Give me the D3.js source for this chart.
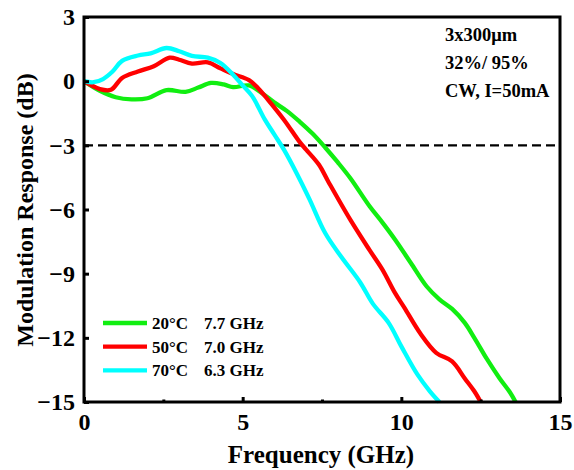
<!DOCTYPE html>
<html>
<head>
<meta charset="utf-8">
<script src="https://cdn.jsdelivr.net/npm/d3@7"></script>
<style>
  body { margin: 0; background: #fff; }
  text { font-family: "Liberation Serif", "Times New Roman", serif; font-weight: bold; fill: #000; }
</style>
</head>
<body>
<div id="chart"></div>
<script>
// measured response curves
const freq20 = [0, 0.5, 1.0, 1.5, 2.0, 2.6, 3.2, 3.6, 4.0, 4.4, 4.7, 5.2, 5.6, 6.0, 6.4, 6.8, 7.2, 7.6, 8.0, 8.4, 9.0, 9.4, 9.8, 10.3, 10.8, 11.2, 11.6, 12.0, 12.3, 12.7, 13.1, 13.4, 13.6];
const resp20 = [0, -0.45, -0.75, -0.85, -0.8, -0.42, -0.5, -0.3, -0.08, -0.15, -0.28, -0.2, -0.55, -1.0, -1.4, -1.9, -2.45, -3.1, -3.8, -4.55, -5.85, -6.6, -7.4, -8.5, -9.6, -10.2, -10.65, -11.3, -12.0, -13.0, -13.9, -14.5, -15];
const freq50 = [0, 0.5, 0.85, 1.2, 1.7, 2.2, 2.7, 3.0, 3.4, 3.9, 4.3, 4.7, 5.2, 5.5, 5.8, 6.3, 6.8, 7.0, 7.4, 7.7, 8.4, 9.0, 9.4, 9.8, 10.1, 10.6, 11.1, 11.6, 12.0, 12.3, 12.5];
const resp50 = [0, -0.37, -0.4, 0.15, 0.45, 0.7, 1.1, 1.0, 0.82, 0.88, 0.6, 0.33, 0.05, -0.35, -0.87, -1.8, -2.85, -3.2, -3.9, -4.7, -6.5, -7.9, -8.8, -9.9, -10.6, -11.8, -12.7, -13.1, -13.9, -14.5, -15];
const freq70 = [0, 0.3, 0.6, 0.9, 1.2, 1.7, 2.1, 2.6, 3.0, 3.4, 3.9, 4.3, 4.7, 5.0, 5.3, 5.7, 6.0, 6.3, 6.7, 7.1, 7.6, 8.1, 8.7, 9.1, 9.6, 10.0, 10.5, 10.9, 11.2];
const resp70 = [0, -0.05, 0.1, 0.45, 0.95, 1.2, 1.3, 1.55, 1.4, 1.18, 1.1, 0.85, 0.3, -0.2, -0.7, -1.8, -2.5, -3.2, -4.3, -5.5, -7.1, -8.2, -9.4, -10.4, -11.3, -12.4, -13.7, -14.5, -15];

const legendLabels = ['20\u00B0C', '50\u00B0C', '70\u00B0C'];
const bandwidths = ['7.7 GHz', '7.0 GHz', '6.3 GHz'];
const colors = ['#11ee11', '#ff0000', '#00ffff'];
const xTicks = [0, 5, 10, 15];
const xMinorTicks = [2.5, 7.5, 12.5];
const yTicks = [3, 0, -3, -6, -9, -12, -15];
const notes = ['3x300\u03BCm', '32%/ 95%', 'CW, I=50mA'];

const width = 574, height = 470;
const margin = {top: 17, right: 14, bottom: 68, left: 84};
const w = width - margin.left - margin.right;
const h = height - margin.top - margin.bottom;

const svg = d3.select('#chart').append('svg')
    .attr('width', width)
    .attr('height', height);
const g = svg.append('g').attr('transform', `translate(${margin.left},${margin.top})`);

const x = d3.scaleLinear().domain([0, 15]).range([0, w]);
const y = d3.scaleLinear().domain([-15, 3]).range([h, 0]);

// -3 dB reference line
g.append('line')
    .attr('x1', x(0)).attr('x2', x(15))
    .attr('y1', y(-3)).attr('y2', y(-3))
    .attr('stroke', '#000')
    .attr('stroke-width', 2.2)
    .attr('stroke-dasharray', '9,5');

const series = [
    {f: freq20, r: resp20},
    {f: freq50, r: resp50},
    {f: freq70, r: resp70}
];

const line = d3.line()
    .x(d => x(d[0]))
    .y(d => y(d[1]))
    .curve(d3.curveCatmullRom);

g.selectAll('path.curve')
    .data(series)
    .enter()
    .append('path')
        .attr('class', 'curve')
        .attr('d', s => line(s.f.map((v, i) => [v, s.r[i]])))
        .attr('fill', 'none')
        .attr('stroke', (s, i) => colors[i])
        .attr('stroke-width', 4.3)
        .attr('stroke-linejoin', 'round');

// axes, ticks inward
const xAxis = g.append('g')
    .attr('transform', `translate(0,${h})`)
    .call(d3.axisBottom(x).tickValues(xTicks).tickSize(-5).tickPadding(10).tickFormat(d3.format('d')));
xAxis.select('.domain').remove();
xAxis.selectAll('line').attr('stroke-width', 3);
xAxis.selectAll('text').style('font-size', '24px').attr('dy', '0.75em');

const xMinor = g.append('g')
    .attr('transform', `translate(0,${h})`)
    .call(d3.axisBottom(x).tickValues(xMinorTicks).tickSize(-2.5).tickFormat(''));
xMinor.select('.domain').remove();
xMinor.selectAll('line').attr('stroke-width', 3);

const yAxis = g.append('g')
    .call(d3.axisLeft(y).tickValues(yTicks).tickSize(-5).tickPadding(9).tickFormat(d3.format('d')));
yAxis.select('.domain').remove();
yAxis.selectAll('line').attr('stroke-width', 3);
yAxis.selectAll('text').style('font-size', '24px');

// frame
g.append('rect')
    .attr('width', w).attr('height', h)
    .attr('fill', 'none')
    .attr('stroke', '#000')
    .attr('stroke-width', 3);

// axis titles
svg.append('text')
    .attr('x', 321)
    .attr('y', 463)
    .attr('text-anchor', 'middle')
    .style('font-size', '25px')
    .text('Frequency (GHz)');

svg.append('text')
    .attr('transform', `translate(33,210) rotate(-90)`)
    .attr('text-anchor', 'middle')
    .style('font-size', '24px')
    .text('Modulation Response (dB)');

// notes
g.selectAll('text.note')
    .data(notes)
    .enter()
    .append('text')
        .attr('class', 'note')
        .attr('x', 361)
        .attr('y', (d, i) => 24 + i * 28)
        .style('font-size', '18.5px')
        .text(d => d);

// legend
const legend = g.append('g').attr('transform', 'translate(19,306)');
legend.selectAll('line')
    .data(legendLabels)
    .enter()
    .append('line')
        .attr('x1', 0).attr('x2', 44)
        .attr('y1', (d, i) => i * 23.7)
        .attr('y2', (d, i) => i * 23.7)
        .attr('stroke', (d, i) => colors[i])
        .attr('stroke-width', 4.3);
legend.selectAll('text.lab')
    .data(legendLabels)
    .enter()
    .append('text')
        .attr('class', 'lab')
        .attr('x', 49)
        .attr('y', (d, i) => i * 23.7 + 6)
        .style('font-size', '17px')
        .text(d => d);
legend.selectAll('text.bw')
    .data(bandwidths)
    .enter()
    .append('text')
        .attr('class', 'bw')
        .attr('x', 101)
        .attr('y', (d, i) => i * 23.7 + 6)
        .style('font-size', '17px')
        .text(d => d);
</script>
</body>
</html>
